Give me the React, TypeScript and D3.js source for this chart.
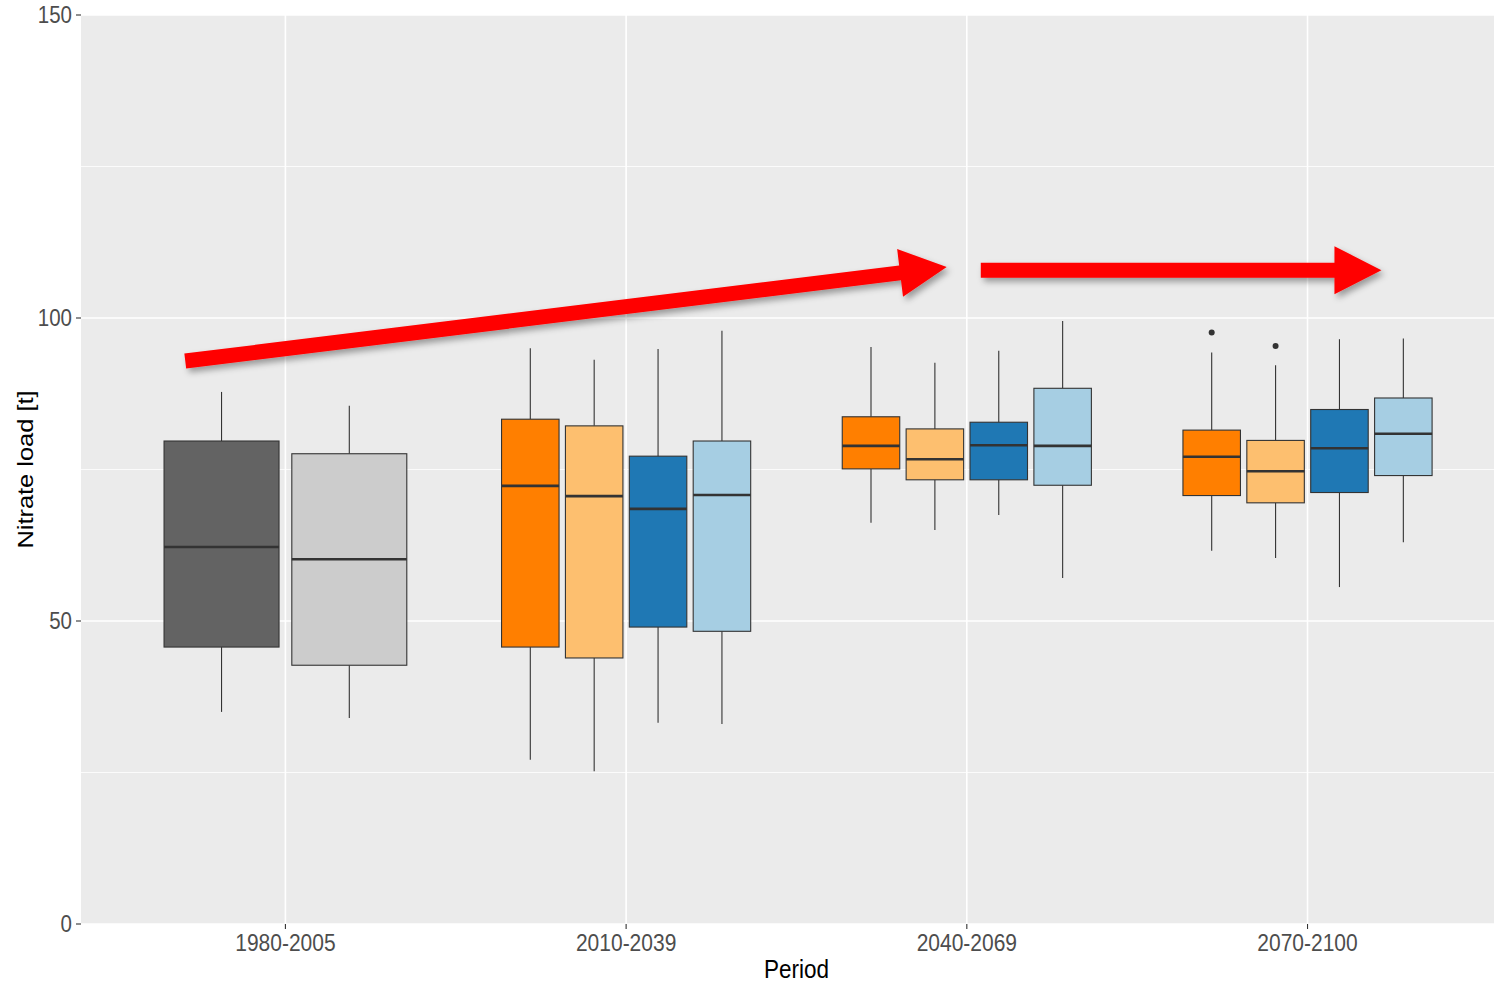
import React from "react";
import * as d3 from "d3";

// ---------- data ----------
const periods = ["1980-2005", "2010-2039", "2040-2069", "2070-2100"];
const seriesKeys = ["histA", "histB", "scenA", "scenB", "scenC", "scenD"];
const seriesColors = ["#636363", "#cccccc", "#ff7f00", "#fdbf6f", "#1f78b4", "#a6cee3"];

const boxPeriod = [0, 0, 1, 1, 1, 1, 2, 2, 2, 2, 3, 3, 3, 3];
const boxSeries = [0, 1, 2, 3, 4, 5, 2, 3, 4, 5, 2, 3, 4, 5];
const upperWhisker = [87.8, 85.5, 95.0, 93.1, 94.9, 97.9, 95.2, 92.6, 94.6, 99.5, 94.3, 92.2, 96.5, 96.6];
const q3 = [79.7, 77.6, 83.3, 82.2, 77.2, 79.7, 83.7, 81.7, 82.8, 88.4, 81.5, 79.8, 84.9, 86.8];
const median = [62.2, 60.2, 72.3, 70.6, 68.5, 70.8, 78.9, 76.7, 79.0, 78.9, 77.1, 74.7, 78.5, 80.9];
const q1 = [45.7, 42.7, 45.7, 43.9, 49.0, 48.3, 75.1, 73.3, 73.3, 72.4, 70.7, 69.5, 71.2, 74.0];
const lowerWhisker = [35.0, 34.0, 27.1, 25.2, 33.2, 33.0, 66.2, 65.0, 67.5, 57.1, 61.6, 60.4, 55.6, 63.0];
const outlierBox = [10, 11];
const outlierValue = [97.6, 95.4];

const yMajorTicks = [0, 50, 100, 150];
const yMinorTicks = [25, 75, 125];

// annotation arrows in data space: x = period index position, y = value
const arrowTailX = [-0.294, 2.041];
const arrowTailY = [92.9, 107.9];
const arrowTipX = [1.941, 3.217];
const arrowTipY = [108.4, 107.9];

// ---------- layout ----------
const W = 1494;
const H = 983;
const panelLeft = 81;
const panelTop = 15;
const panelBottom = 924;
const unit = 340.7;
const panelRight = panelLeft + unit * (periods.length - 1 + 1.2);
const vStretch = 1.13;
const font = "'Liberation Sans', Arial, Helvetica, sans-serif";

export default function App() {
  const x = d3
    .scaleLinear()
    .domain([-0.6, periods.length - 1 + 0.6])
    .range([panelLeft, panelRight]);
  const y = d3.scaleLinear().domain([0, 150]).range([panelBottom, panelTop]);

  const countPer = periods.map((_, p) => boxPeriod.filter((b) => b === p).length);
  const boxes = boxPeriod.map((p, i) => {
    const n = countPer[p];
    const k = boxPeriod.slice(0, i).filter((b) => b === p).length;
    const slot = 0.75 / n;
    const cx = p - 0.375 + slot * (k + 0.5);
    const halfW = (slot * 0.9) / 2;
    return { i, p, cx, x0: x(cx - halfW), x1: x(cx + halfW), xc: x(cx), fill: seriesColors[boxSeries[i]] };
  });

  const arrowPath = (a: number) => {
    const tx = x(arrowTailX[a]);
    const ty = y(arrowTailY[a]);
    const px = x(arrowTipX[a]);
    const py = y(arrowTipY[a]);
    const len = Math.hypot(px - tx, py - ty);
    const dx = (px - tx) / len;
    const dy = (py - ty) / len;
    const nx = -dy;
    const ny = dx;
    const sw = 7.5;
    const hl = 47;
    const hw = 24;
    const bx = px - dx * hl;
    const by = py - dy * hl;
    const pts = [
      [tx + nx * sw, ty + ny * sw],
      [bx + nx * sw, by + ny * sw],
      [bx + nx * hw, by + ny * hw],
      [px, py],
      [bx - nx * hw, by - ny * hw],
      [bx - nx * sw, by - ny * sw],
      [tx - nx * sw, ty - ny * sw],
    ];
    return "M" + pts.map((q) => q.join(",")).join("L") + "Z";
  };

  return (
    <svg
      width={W}
      height={H}
      style={{ position: "absolute", left: 0, top: 0, display: "block" }}
      fontFamily={font}
    >
      <defs>
        <clipPath id="panelClip">
          <rect x={panelLeft} y={panelTop} width={panelRight - panelLeft} height={panelBottom - panelTop} />
        </clipPath>
        <filter id="shadow" x="-10%" y="-50%" width="120%" height="200%">
          <feDropShadow dx="3" dy="4" stdDeviation="3" floodColor="#000" floodOpacity="0.35" />
        </filter>
      </defs>
      <rect x={0} y={0} width={W} height={H} fill="#ffffff" />
      <g clipPath="url(#panelClip)">
        <rect x={panelLeft} y={panelTop} width={panelRight - panelLeft} height={panelBottom - panelTop} fill="#ebebeb" />
        {yMinorTicks.map((t) => (
          <line key={"mn" + t} x1={panelLeft} x2={panelRight} y1={y(t)} y2={y(t)} stroke="#ffffff" strokeWidth={0.8} />
        ))}
        {yMajorTicks.map((t) => (
          <line key={"mj" + t} x1={panelLeft} x2={panelRight} y1={y(t)} y2={y(t)} stroke="#ffffff" strokeWidth={1.6} />
        ))}
        {periods.map((p, i) => (
          <line key={"vx" + p} x1={x(i)} x2={x(i)} y1={panelTop} y2={panelBottom} stroke="#ffffff" strokeWidth={1.6} />
        ))}
        {boxes.map((b) => (
          <g key={"box" + b.i}>
            <line x1={b.xc} x2={b.xc} y1={y(upperWhisker[b.i])} y2={y(q3[b.i])} stroke="#333333" strokeWidth={1.1} />
            <line x1={b.xc} x2={b.xc} y1={y(q1[b.i])} y2={y(lowerWhisker[b.i])} stroke="#333333" strokeWidth={1.1} />
            <rect
              x={b.x0}
              y={y(q3[b.i])}
              width={b.x1 - b.x0}
              height={y(q1[b.i]) - y(q3[b.i])}
              fill={b.fill}
              stroke="#333333"
              strokeWidth={1.1}
            />
            <line x1={b.x0} x2={b.x1} y1={y(median[b.i])} y2={y(median[b.i])} stroke="#333333" strokeWidth={2.6} />
          </g>
        ))}
        {outlierBox.map((bi, k) => (
          <circle key={"o" + k} cx={boxes[bi].xc} cy={y(outlierValue[k])} r={3} fill="#333333" />
        ))}
        {arrowTailX.map((_, a) => (
          <path key={"ar" + a} d={arrowPath(a)} fill="#ff0000" filter="url(#shadow)" />
        ))}
      </g>
      {/* y axis */}
      {yMajorTicks.map((t) => (
        <g key={"yt" + t}>
          <line x1={panelLeft - 5} x2={panelLeft} y1={y(t)} y2={y(t)} stroke="#333333" strokeWidth={1.1} />
          <text
            transform={`translate(${panelLeft - 9},${y(t) + 8.2}) scale(1,${vStretch})`}
            textAnchor="end"
            fontSize={20.5}
            fill="#4d4d4d"
          >
            {t}
          </text>
        </g>
      ))}
      {/* x axis */}
      {periods.map((p, i) => (
        <g key={"xt" + p}>
          <line x1={x(i)} x2={x(i)} y1={panelBottom} y2={panelBottom + 5} stroke="#333333" strokeWidth={1.1} />
          <text
            transform={`translate(${x(i)},${panelBottom + 27}) scale(1,${vStretch})`}
            textAnchor="middle"
            fontSize={21}
            fill="#4d4d4d"
          >
            {p}
          </text>
        </g>
      ))}
      <text
        transform={`translate(${(panelLeft + panelRight) / 2},${978}) scale(1,${vStretch})`}
        textAnchor="middle"
        fontSize={22.5}
        fill="#000000"
      >
        Period
      </text>
      <text
        transform={`translate(${33},${(panelTop + panelBottom) / 2}) scale(1,${vStretch}) rotate(-90)`}
        textAnchor="middle"
        fontSize={22.5}
        fill="#000000"
      >
        Nitrate load [t]
      </text>
    </svg>
  );
}
